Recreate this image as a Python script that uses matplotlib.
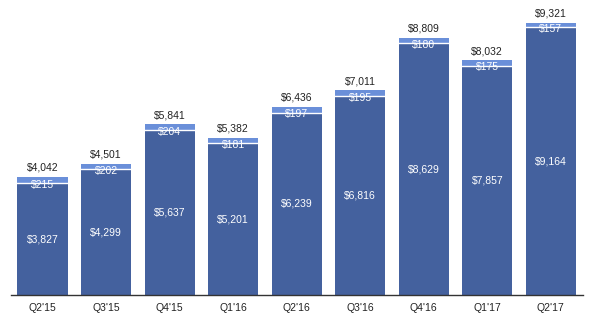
import matplotlib.pyplot as plt

quarters = ["Q2'15", "Q3'15", "Q4'15", "Q1'16", "Q2'16", "Q3'16", "Q4'16", "Q1'17", "Q2'17"]
main_vals = [3827, 4299, 5637, 5201, 6239, 6816, 8629, 7857, 9164]
other_vals = [215, 202, 204, 181, 197, 195, 180, 175, 157]
totals = [4042, 4501, 5841, 5382, 6436, 7011, 8809, 8032, 9321]

dark = '#44619e'
light = '#6a8fd9'

plt.rcParams['font.family'] = ['Liberation Sans', 'DejaVu Sans']

fig = plt.figure(figsize=(6, 3.25), dpi=100)
ax = fig.add_axes([0.018, 0.092, 0.953, 0.908])

x = range(len(quarters))
ax.bar(x, main_vals, width=0.79, color=dark, edgecolor='white', linewidth=0)
ax.bar(x, other_vals, width=0.79, bottom=main_vals, color=light, linewidth=0)
# thin white line between the two parts
for i in x:
    ax.plot([i - 0.395, i + 0.395], [main_vals[i], main_vals[i]], color='white', lw=1)

for i in x:
    ax.annotate(f"${totals[i]:,}", (i, totals[i]), xytext=(0, 3), textcoords='offset points',
                ha='center', va='bottom', fontsize=7.5, color='#222222')
    ax.annotate(f"${other_vals[i]}", (i, main_vals[i]), xytext=(0, -1.2), textcoords='offset points',
                ha='center', va='center', fontsize=7.5, color='white')
    ax.text(i, main_vals[i] / 2, f"${main_vals[i]:,}", ha='center', va='center',
            fontsize=7.5, color='white')

ax.set_xlim(-0.5, 8.5)
ax.set_ylim(0, 10100)
ax.set_xticks(list(x))
ax.set_xticklabels(quarters, fontsize=7.5, color='#222222')
ax.tick_params(axis='x', length=0, pad=6)
ax.set_yticks([])
for s in ['top', 'right', 'left']:
    ax.spines[s].set_visible(False)
ax.spines['bottom'].set_color('#333333')
ax.spines['bottom'].set_linewidth(1)

fig.savefig('out.png', dpi=100)
